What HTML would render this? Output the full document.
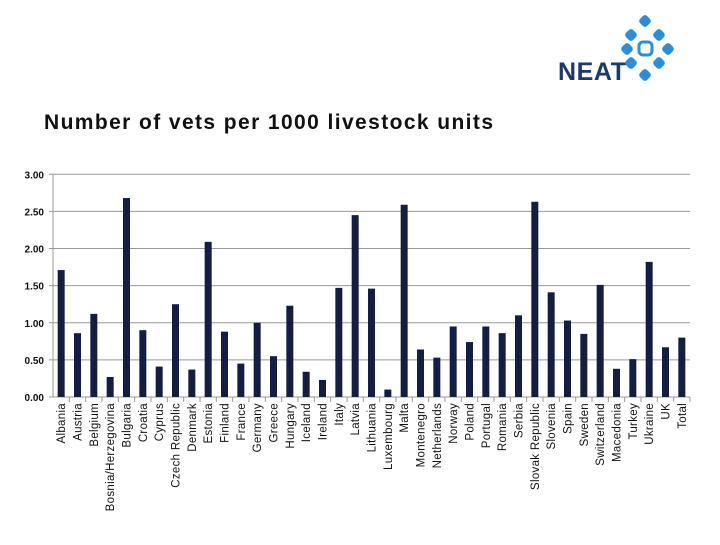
<!DOCTYPE html>
<html><head><meta charset="utf-8"><style>
body{margin:0;background:#fff;font-family:"Liberation Sans",Arial,sans-serif}
svg text{font-family:"Liberation Sans",Arial,sans-serif}
</style></head><body>
<svg id="c" width="720" height="540">
<g>
<text x="558" y="80" font-size="25" font-weight="bold" fill="#1a3a6b" textLength="68">NEAT</text>
<g fill="#2b8fd8">
<rect x="640" y="16" width="10" height="10" rx="3" transform="rotate(45 645 21)"/>
<rect x="626" y="30" width="10" height="10" rx="3" transform="rotate(45 631 35)"/>
<rect x="654" y="30" width="10" height="10" rx="3" transform="rotate(45 659 35)"/>
<rect x="622" y="44" width="10" height="10" rx="3" transform="rotate(45 627 49)"/>
<rect x="663" y="44" width="10" height="10" rx="3" transform="rotate(45 668 49)"/>
<rect x="626" y="58" width="10" height="10" rx="3" transform="rotate(45 631 63)"/>
<rect x="654" y="58" width="10" height="10" rx="3" transform="rotate(45 659 63)"/>
<rect x="640" y="70" width="10" height="10" rx="3" transform="rotate(45 645 75)"/>
<rect x="639" y="42" width="13" height="13" rx="4" fill="none" stroke="#2b8fd8" stroke-width="3"/>
</g></g>
<text x="44" y="129" font-size="21" font-weight="bold" fill="#111" textLength="449">Number of vets per 1000 livestock units</text>
<g id="grid"></g><g id="bars"></g><g id="axes"></g>
</svg>
<script>
const categories=["Albania","Austria","Belgium","Bosnia/Herzegovina","Bulgaria","Croatia","Cyprus","Czech Republic","Denmark","Estonia","Finland","France","Germany","Greece","Hungary","Iceland","Ireland","Italy","Latvia","Lithuania","Luxembourg","Malta","Montenegro","Netherlands","Norway","Poland","Portugal","Romania","Serbia","Slovak Republic","Slovenia","Spain","Sweden","Switzerland","Macedonia","Turkey","Ukraine","UK","Total"];
const values=[1.71,0.86,1.12,0.27,2.68,0.90,0.41,1.25,0.37,2.09,0.88,0.45,1.00,0.55,1.23,0.34,0.23,1.47,2.45,1.46,0.10,2.59,0.64,0.53,0.95,0.74,0.95,0.86,1.10,2.63,1.41,1.03,0.85,1.51,0.38,0.51,1.82,0.67,0.80];
const yTicks=[0,0.5,1,1.5,2,2.5,3];
const NS="http://www.w3.org/2000/svg";
const X0=53,X1=690,Y0=397,Y1=174.3;
const step=(X1-X0)/categories.length;
const y=v=>Y0-(v/3)*(Y0-Y1);
const xc=i=>X0+step*(i+0.5);
function mk(t,a,p){const e=document.createElementNS(NS,t);for(const k in a)e.setAttribute(k,a[k]);p.appendChild(e);return e;}
const G=document.getElementById('grid'),B=document.getElementById('bars'),A=document.getElementById('axes');
yTicks.forEach(t=>{
 const l=mk('line',{x1:X0-4,x2:X1,y1:y(t),y2:y(t),stroke:'#999','stroke-width':1},G);
 
 
 const tx=mk('text',{x:X0-9,y:y(t)+4,'text-anchor':'end','font-size':10,'font-weight':'bold',fill:'#111'},A);
 tx.textContent=t.toFixed(2);
 
 
});
mk('line',{x1:X0,x2:X0,y1:Y1,y2:Y0,stroke:'#999'},A);
categories.forEach((c,i)=>{
 const r=mk('rect',{x:xc(i)-3.5,y:y(values[i]),width:7,height:Y0-y(values[i]),fill:'#141e45'},B);
 
 
 mk('line',{x1:X0+step*(i+1),x2:X0+step*(i+1),y1:Y0,y2:Y0+5,stroke:'#999'},A);
 const tx=mk('text',{transform:`translate(${xc(i)+4},403) rotate(-90)`,'text-anchor':'end','font-size':11.5,'letter-spacing':'0.3',fill:'#111'},A);
 tx.textContent=c;
 
 
});
</script>
</body></html>
